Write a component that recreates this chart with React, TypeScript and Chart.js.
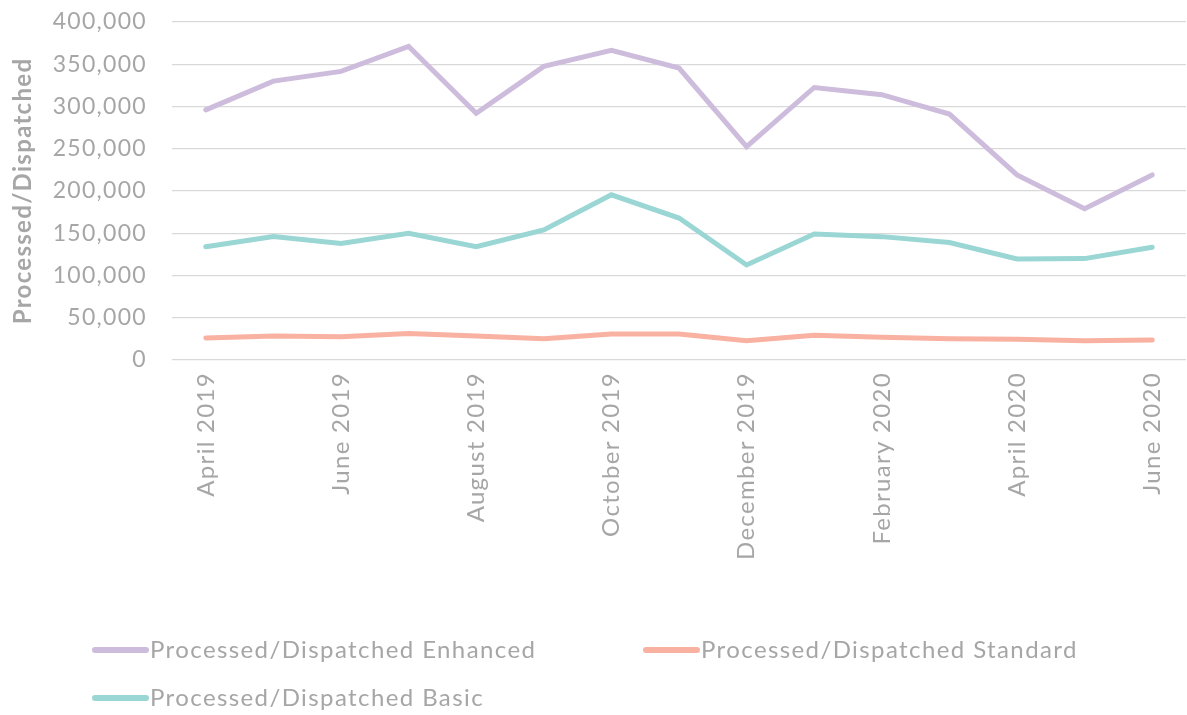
import React, { useEffect, useRef } from "react";
import { Chart, registerables } from "chart.js";

Chart.register(...registerables);

const months = [
  "April 2019", "May 2019", "June 2019", "July 2019", "August 2019", "September 2019",
  "October 2019", "November 2019", "December 2019", "January 2020", "February 2020",
  "March 2020", "April 2020", "May 2020", "June 2020",
];

const enhanced = [296000, 330000, 341500, 371000, 292000, 347500, 366500, 345500, 252500, 322500, 314000, 291000, 219000, 179000, 219000];
const standard = [26000, 28400, 27600, 31500, 28400, 25200, 30800, 30800, 22900, 29300, 26900, 25200, 24500, 22900, 23700];
const basic = [134000, 146000, 138000, 150000, 134000, 154000, 195500, 168000, 112500, 149000, 146000, 139000, 119500, 120000, 133500];

const seriesLabels = [
  "Processed/Dispatched Enhanced",
  "Processed/Dispatched Standard",
  "Processed/Dispatched Basic",
];
const seriesColors = ["#cdbcdc", "#f9b1a1", "#99d6d4"];
const yTitle = "Processed/Dispatched";

const FONT = "Lato, 'Open Sans', sans-serif";
const GREY = "#a6a6a6";
const SPACING = "1.3px";

const spacingPlugin = {
  id: "letterSpacing",
  beforeUpdate(chart: any) { chart.ctx.letterSpacing = SPACING; },
  beforeDraw(chart: any) { chart.ctx.letterSpacing = SPACING; },
};

const legendPlugin = {
  id: "columnLegend",
  afterDraw(chart: any) {
    const ctx = chart.ctx;
    const cols = [92, 643];
    const rows = [650, 698];
    ctx.save();
    ctx.letterSpacing = "1.4px";
    ctx.font = `24px ${FONT}`;
    ctx.textBaseline = "middle";
    ctx.textAlign = "left";
    chart.data.datasets.forEach((ds: any, i: number) => {
      const x = cols[i % 2];
      const y = rows[Math.floor(i / 2)];
      ctx.strokeStyle = ds.borderColor;
      ctx.lineWidth = 6;
      ctx.lineCap = "round";
      ctx.beginPath();
      ctx.moveTo(x + 3, y);
      ctx.lineTo(x + 54, y);
      ctx.stroke();
      ctx.fillStyle = GREY;
      ctx.fillText(ds.label, x + 58, y);
    });
    ctx.restore();
  },
};

export default function App() {
  const ref = useRef<HTMLCanvasElement>(null);
  useEffect(() => {
    if (!ref.current) return;
    const data = [enhanced, standard, basic];
    const chart = new Chart(ref.current, {
      type: "line",
      data: {
        labels: months,
        datasets: data.map((d, i) => ({
          label: seriesLabels[i],
          data: d,
          borderColor: seriesColors[i],
          backgroundColor: seriesColors[i],
          borderWidth: 5,
          pointRadius: 0,
          borderCapStyle: "round",
          tension: 0,
          fill: false,
        })),
      },
      options: {
        animation: false,
        responsive: true,
        maintainAspectRatio: false,
        layout: { padding: { left: 0, right: 1, top: 22, bottom: 155 } },
        plugins: { legend: { display: false }, tooltip: { enabled: false } },
        scales: {
          x: {
            offset: true,
            grid: { display: false, drawTicks: false },
            border: { display: false },
            afterFit: (scale: any) => {
              scale.height = 200;
              scale.paddingLeft = 0;
              scale.paddingRight = 0;
            },
            ticks: {
              autoSkip: false,
              minRotation: 90,
              maxRotation: 90,
              padding: 12,
              color: GREY,
              font: { family: FONT, size: 24 },
              callback: (_v: any, i: number) => (i % 2 === 0 ? months[i] : ""),
            },
          },
          y: {
            min: 0,
            max: 400000,
            grid: { color: "#d9d9d9", lineWidth: 1.3, drawTicks: false },
            border: { display: false },
            afterFit: (scale: any) => {
              scale.width = 172;
              scale.paddingTop = 0;
              scale.paddingBottom = 0;
            },
            ticks: {
              stepSize: 50000,
              padding: 25,
              color: GREY,
              font: { family: FONT, size: 23 },
              callback: (v: any) => Number(v).toLocaleString("en-US"),
            },
            title: {
              display: true,
              text: yTitle,
              color: GREY,
              padding: { top: 9, bottom: 0 },
              font: { family: FONT, size: 24, weight: "bold" },
            },
          },
        },
      },
      plugins: [spacingPlugin, legendPlugin],
    });
    return () => chart.destroy();
  }, []);
  return (
    <div style={{ position: "absolute", left: 0, top: 0, width: 1187, height: 715 }}>
      <canvas ref={ref} />
    </div>
  );
}
